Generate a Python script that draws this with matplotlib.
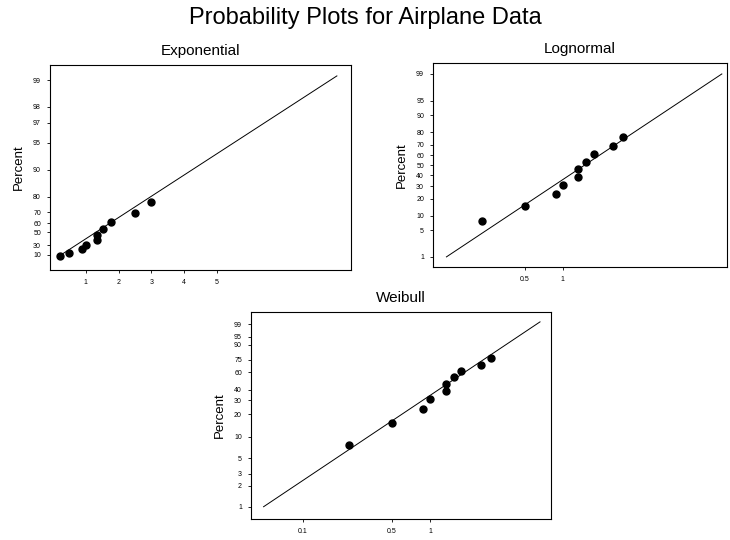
import numpy as np
import matplotlib
matplotlib.use("Agg")
import matplotlib.pyplot as plt
from matplotlib.ticker import NullLocator, FixedLocator, FixedFormatter
from statistics import NormalDist

plt.rcParams['font.family'] = ['Liberation Sans', 'DejaVu Sans']

# failure times and their plotted percents
times = [0.23, 0.5, 0.88, 1.0, 1.33, 1.33, 1.54, 1.76, 2.5, 3.0]
percents = [7.7, 15.4, 23.1, 30.8, 38.5, 46.2, 53.8, 61.5, 69.2, 76.9]

# fitted lines: end points (time, percent)
exp_line_x = [0.2, 8.66]
exp_line_p = [8.0, 99.1]
logn_line_x = [0.12, 18.2]
logn_line_p = [1.0, 99.0]
weib_line_x = [0.049, 7.35]
weib_line_p = [1.0, 99.3]

exp_xticks = [1, 2, 3, 4, 5]
exp_yticks = [10, 30, 50, 60, 70, 80, 90, 95, 97, 98, 99]
logn_xticks = [0.5, 1]
logn_xlabels = ["0.5", "1"]
logn_yticks = [1, 5, 10, 20, 30, 40, 50, 60, 70, 80, 90, 95, 99]
weib_xticks = [0.1, 0.5, 1]
weib_xlabels = ["0.1", "0.5", "1"]
weib_yticks = [1, 2, 3, 5, 10, 20, 30, 40, 60, 75, 90, 95, 99]

nd = NormalDist()
_ppf = np.vectorize(nd.inv_cdf, otypes=[float])
_cdf = np.vectorize(nd.cdf, otypes=[float])


# probability scales
def exp_fwd(p):
    p = np.clip(np.asarray(p, float), -1e6, 99.99999)
    return -np.log(1 - p / 100)


def exp_inv(e):
    return 100 * (1 - np.exp(-np.asarray(e, float)))


def norm_fwd(p):
    p = np.clip(np.asarray(p, float) / 100, 1e-9, 1 - 1e-9)
    return _ppf(p)


def norm_inv(z):
    return 100 * _cdf(np.asarray(z, float))


def weib_fwd(p):
    p = np.clip(np.asarray(p, float) / 100, 1e-9, 1 - 1e-9)
    return np.log(-np.log(1 - p))


def weib_inv(w):
    return 100 * (1 - np.exp(-np.exp(np.asarray(w, float))))


def style(ax, title):
    ax.set_title(title, fontsize=11, pad=7)
    ax.set_ylabel("Percent", fontsize=9.5, labelpad=6)
    ax.tick_params(direction="out", length=2.5, width=0.6, labelsize=5, pad=4)
    ax.xaxis.set_minor_locator(NullLocator())
    ax.yaxis.set_minor_locator(NullLocator())
    for s in ax.spines.values():
        s.set_linewidth(0.8)


fig = plt.figure(figsize=(7.3, 5.4), dpi=100)
fig.text(0.5, 0.966, "Probability Plots for Airplane Data", ha="center", va="center", fontsize=17)

# Exponential
ax1 = fig.add_axes([0.0685, 0.5, 0.4123, 0.3796])
ax1.set_yscale("function", functions=(exp_fwd, exp_inv))
ax1.plot(exp_line_x, exp_line_p, color="black", lw=0.7)
ax1.plot(times, percents, "o", color="black", ms=5)
ax1.set_xlim(-0.09, 9.09)
ax1.set_ylim(-32.4, 99.32)
ax1.set_xticks(exp_xticks)
ax1.yaxis.set_major_locator(FixedLocator(exp_yticks))
ax1.yaxis.set_major_formatter(FixedFormatter([str(t) for t in exp_yticks]))
style(ax1, "Exponential")

# Lognormal
ax2 = fig.add_axes([0.5932, 0.5056, 0.4027, 0.3777])
ax2.set_xscale("log")
ax2.set_yscale("function", functions=(norm_fwd, norm_inv))
ax2.plot(logn_line_x, logn_line_p, color="black", lw=0.7)
ax2.plot(times, percents, "o", color="black", ms=5)
ax2.set_xlim(0.094, 20)
ax2.set_ylim(0.49, 99.54)
ax2.xaxis.set_major_locator(FixedLocator(logn_xticks))
ax2.xaxis.set_major_formatter(FixedFormatter(logn_xlabels))
ax2.yaxis.set_major_locator(FixedLocator(logn_yticks))
ax2.yaxis.set_major_formatter(FixedFormatter([str(t) for t in logn_yticks]))
style(ax2, "Lognormal")

# Weibull
ax3 = fig.add_axes([0.3438, 0.0389, 0.411, 0.3833])
ax3.set_xscale("log")
ax3.set_yscale("function", functions=(weib_fwd, weib_inv))
ax3.plot(weib_line_x, weib_line_p, color="black", lw=0.7)
ax3.plot(times, percents, "o", color="black", ms=5)
ax3.set_xlim(0.039, 8.97)
ax3.set_ylim(0.664, 99.90)
ax3.xaxis.set_major_locator(FixedLocator(weib_xticks))
ax3.xaxis.set_major_formatter(FixedFormatter(weib_xlabels))
ax3.yaxis.set_major_locator(FixedLocator(weib_yticks))
ax3.yaxis.set_major_formatter(FixedFormatter([str(t) for t in weib_yticks]))
style(ax3, "Weibull")

fig.savefig("out.png", dpi=100)
